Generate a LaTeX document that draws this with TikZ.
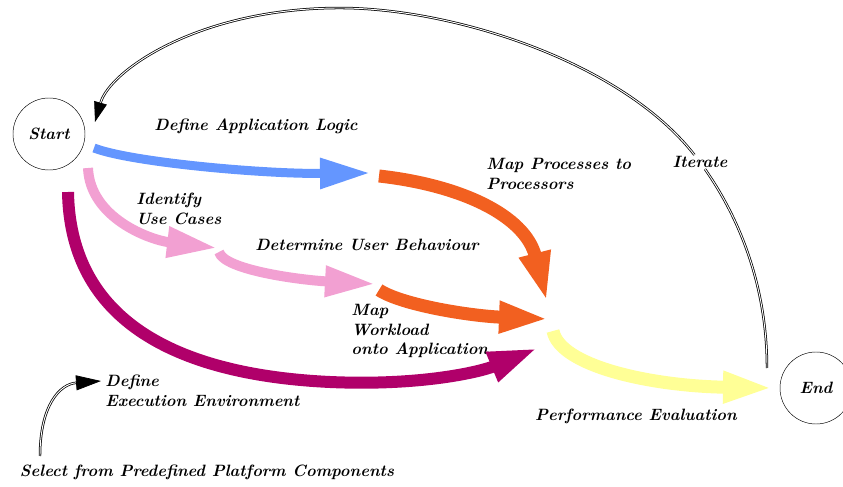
\documentclass[tikz,border=0pt]{standalone}
\usepackage{tikz}
\usetikzlibrary{arrows.meta}

\definecolor{flowblue}{RGB}{100,150,255}
\definecolor{floworange}{RGB}{242,96,32}
\definecolor{flowpink}{RGB}{242,160,210}
\definecolor{flowmagenta}{RGB}{176,0,106}
\definecolor{flowyellow}{RGB}{255,255,150}

\begin{document}
\begin{tikzpicture}[
    x=0.03cm, y=-0.03cm,
    lbl/.style={font=\fontsize{14}{17}\selectfont\bfseries\itshape, align=left, inner sep=1pt},
    term/.style={draw, circle, minimum size=2.16cm, inner sep=0pt, lbl},
    flow/.style={draw=#1, line width=0.33cm, -{Triangle[width=0.87cm, length=1.5cm]}},
    iter/.style={double, line width=0.65pt, double distance=0.8pt}
  ]
  \useasboundingbox (0,0) rectangle (843,487);

  \node[term] (start) at (49,134) {Start};
  \node[term] (end) at (816,388) {End};

  \node[lbl] (applogic) at (256,126) {Define Application Logic};
  \node[lbl, anchor=west] (mapproc) at (485,174) {Map Processes to\\Processors};
  \node[lbl] (iterate) at (700,162) {Iterate};
  \node[lbl, anchor=west] (usecases) at (135,209) {Identify\\Use Cases};
  \node[lbl] (behaviour) at (367,245) {Determine User Behaviour};
  \node[lbl, anchor=west] (workload) at (350,331) {Map\\Workload\\onto Application};
  \node[lbl, anchor=west] (execenv) at (104,391) {Define\\Execution Environment};
  \node[lbl] (perfeval) at (636,416) {Performance Evaluation};
  \node[lbl] (select) at (207,472) {Select from Predefined Platform Components};

  % free ends of the flows
  \coordinate (logicstart) at (94,148);
  \coordinate (logicend) at (370,173);
  \coordinate (casestart) at (88,168);
  \coordinate (caseend) at (217,248);
  \coordinate (behavstart) at (219,252);
  \coordinate (behavend) at (375,284);
  \coordinate (procstart) at (379,176);
  \coordinate (procend) at (547,302);
  \coordinate (loadstart) at (379,290);
  \coordinate (loadend) at (549,319);
  \coordinate (envstart) at (68,192);
  \coordinate (envend) at (538,348);
  \coordinate (evalstart) at (553,331);
  \coordinate (evalend) at (773,388);
  \coordinate (iterbase) at (767,368);
  \coordinate (starttip) at (95,122);
  \coordinate (selbase) at (40,456);
  \coordinate (envtip) at (101,381);

  \draw[flow=flowblue, line width=0.27cm] (logicstart) .. controls (130,162) and (260,174) .. (logicend);
  \draw[flow=flowpink, line width=0.3cm] (casestart) .. controls (90,218) and (150,240) .. (caseend);
  \draw[flow=flowpink, line width=0.3cm] (behavstart) .. controls (224,270) and (300,280) .. (behavend);
  \draw[flow=floworange, line width=0.39cm] (procstart) .. controls (460,185) and (525,215) .. (procend);
  \draw[flow=floworange, line width=0.39cm] (loadstart) .. controls (402,305) and (470,316) .. (loadend);
  \draw[flow=flowmagenta, line width=0.36cm] (envstart) .. controls (70,310) and (160,374) .. (330,382)
    .. controls (420,386) and (480,372) .. (envend);
  \draw[flow=flowyellow, line width=0.39cm] (evalstart) .. controls (560,366) and (650,386) .. (evalend);

  \draw[iter] (iterbase) .. controls (767,290) and (742,222) .. (iterate);
  \draw[iter, -{Triangle[width=0.39cm, length=0.6cm]}] (iterate) .. controls (620,60) and (450,8) .. (340,8)
    .. controls (200,8) and (110,70) .. (starttip);
  \draw[iter, -{Triangle[width=0.45cm, length=0.75cm]}] (selbase) .. controls (40,405) and (60,384) .. (envtip);
\end{tikzpicture}
\end{document}
